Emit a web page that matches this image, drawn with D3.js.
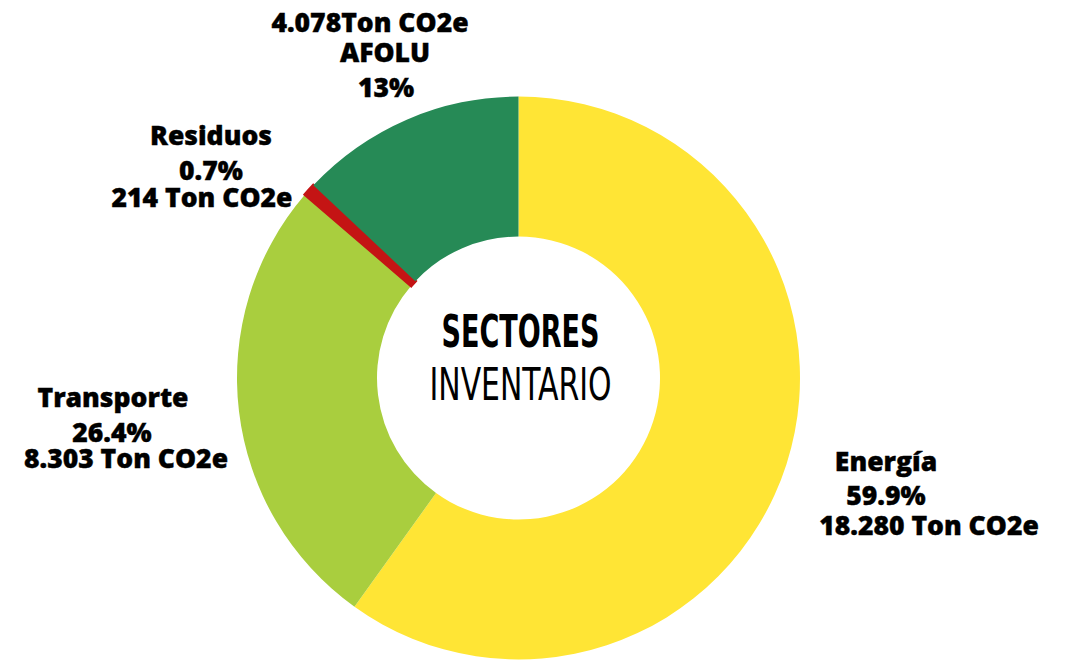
<!DOCTYPE html>
<html>
<head>
<meta charset="utf-8">
<script src="https://cdn.jsdelivr.net/npm/d3@7"></script>
<style>
  body { margin: 0; background: #fff; }
  svg text { font-family: "Open Sans", sans-serif; font-weight: 800; fill: #000; }
</style>
</head>
<body>
<div id="chart"></div>
<script>
// sector data (clockwise from 12 o'clock)
var sectors = ["Energía", "Transporte", "Residuos", "AFOLU"];
var shares = [59.9, 26.4, 0.7, 13];
var shareLabels = ["59.9%", "26.4%", "0.7%", "13%"];
var tonLabels = ["18.280 Ton CO2e", "8.303 Ton CO2e", "214 Ton CO2e", "4.078Ton CO2e"];
var colors = ["#ffe535", "#a9ce3e", "#c41414", "#268a56"];

var width = 1071, height = 660;
var cx = 518.5, cy = 378, outerR = 281.5, innerR = 141.5;

// label blocks: [line, x, baseline]
var labelLayout = {
  "Energía":    [["name", 886, 471], ["share", 886, 505], ["ton", 929, 535]],
  "Transporte": [["name", 113, 407], ["share", 112, 442], ["ton", 126, 468]],
  "Residuos":   [["name", 211, 145], ["share", 211, 180], ["ton", 202, 207]],
  "AFOLU":      [["ton", 370, 32], ["name", 385, 62], ["share", 386, 97]]
};

var svg = d3.select("#chart").append("svg")
    .attr("width", width)
    .attr("height", height);

var data = sectors.map(function (s, i) {
  return {sector: s, share: shares[i], shareLabel: shareLabels[i], ton: tonLabels[i], color: colors[i]};
});

var pie = d3.pie()
    .value(function (d) { return d.share; })
    .sort(null);

var arc = d3.arc()
    .innerRadius(innerR)
    .outerRadius(outerR);

var g = svg.append("g")
    .attr("transform", "translate(" + cx + "," + cy + ")");

g.selectAll("path")
  .data(pie(data))
  .enter()
  .append("path")
    .attr("d", arc)
    .attr("fill", function (d) { return d.data.color; })
    // the tiny slice is drawn a little thicker, like the original
    .attr("stroke", function (d) { return d.data.share < 1 ? d.data.color : "none"; })
    .attr("stroke-width", 3);

// slice labels
data.forEach(function (d) {
  labelLayout[d.sector].forEach(function (l) {
    var txt = l[0] == "name" ? d.sector : (l[0] == "share" ? d.shareLabel : d.ton);
    svg.append("text")
      .attr("x", l[1])
      .attr("y", l[2])
      .attr("text-anchor", "middle")
      .style("font-size", "26.5px")
      .style("stroke", "#000")
      .style("stroke-width", 0.4)
      .text(txt);
  });
});

// centre title
svg.append("text")
  .attr("x", cx + 2)
  .attr("y", 347)
  .attr("text-anchor", "middle")
  .attr("textLength", 158)
  .attr("lengthAdjust", "spacingAndGlyphs")
  .style("font-family", "'Liberation Sans Narrow', 'DejaVu Sans Condensed', sans-serif")
  .style("font-weight", 700)
  .style("font-size", "45px")
  .text("SECTORES");

svg.append("text")
  .attr("x", cx + 2)
  .attr("y", 400)
  .attr("text-anchor", "middle")
  .attr("textLength", 182)
  .attr("lengthAdjust", "spacingAndGlyphs")
  .style("font-family", "'Liberation Sans Narrow', 'DejaVu Sans Condensed', sans-serif")
  .style("font-weight", 400)
  .style("font-size", "45px")
  .text("INVENTARIO");
</script>
</body>
</html>
